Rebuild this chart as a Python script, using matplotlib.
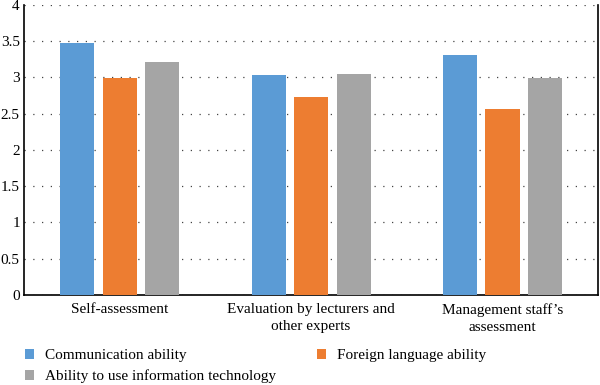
import numpy as np
import matplotlib.pyplot as plt

categories = ["Self-assessment", "Evaluation by lecturers and\nother experts",
              "Management staff\u2019s\nassessment"]
series = ["Communication ability", "Foreign language ability",
          "Ability to use information technology"]
communication = [3.47, 3.03, 3.31]
foreign_lang = [2.99, 2.73, 2.57]
info_tech = [3.21, 3.05, 2.99]
colors = ["#5B9BD5", "#ED7D31", "#A5A5A5"]

plt.rcParams['font.family'] = ['Liberation Serif', 'DejaVu Serif']

fig = plt.figure(figsize=(6, 3.85), dpi=100)
ax = fig.add_axes([0.04, 0.234, 0.957, 0.753])

x = np.arange(len(categories))
w = 0.178
step = 0.222
bars = []
for i, (vals, name) in enumerate(zip([communication, foreign_lang, info_tech], series)):
    bars.append(ax.bar(x + (i - 1) * step, vals, w, color=colors[i], label=name, zorder=3))

ax.set_xlim(-0.5, 2.5)
ax.set_ylim(0, 4)
ax.set_yticks(np.arange(0, 4.01, 0.5))
ax.set_yticklabels(["0", "0.5", "1", "1.5", "2", "2.5", "3", "3.5", "4"])
ax.yaxis.grid(True, linestyle=(0, (1, 6)), color="#444444", linewidth=0.9, zorder=0)
ax.set_xticks(x)
ax.set_xticklabels(categories, fontsize=11, linespacing=1.4)
ax.tick_params(length=0, labelsize=11)
ax.tick_params(axis='y', pad=3)
ax.tick_params(axis='x', pad=6)
ax.spines['top'].set_visible(False)
for s in ['left', 'bottom', 'right']:
    ax.spines[s].set_linewidth(1.2)

# row-wise legend order: comm, foreign / info tech
handles = [bars[0], bars[2], bars[1]]
labels = [series[0], series[2], series[1]]
fig.legend(handles, labels, loc='lower left', bbox_to_anchor=(0.042, 0.004), ncol=2,
           frameon=False, fontsize=11, handlelength=0.6, handleheight=0.6,
           columnspacing=2.7, labelspacing=0.5, handletextpad=0.7,
           borderpad=0, borderaxespad=0)

fig.savefig("out.png", dpi=100)
